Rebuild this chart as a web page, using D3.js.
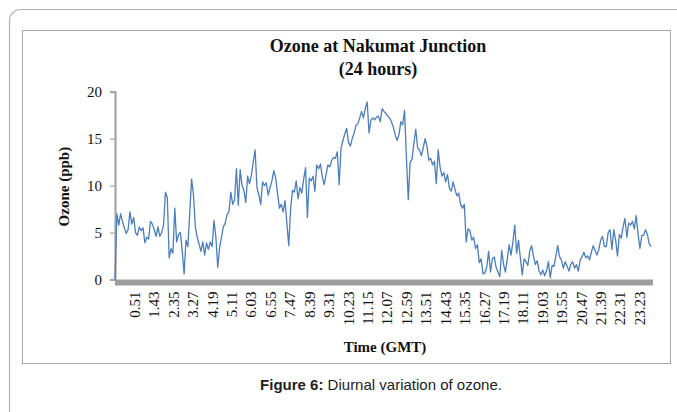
<!DOCTYPE html>
<html>
<head>
<meta charset="utf-8">
<script src="https://cdn.jsdelivr.net/npm/d3@7"></script>
<style>
  body { margin: 0; background: #fff; }
  svg { display: block; }
</style>
</head>
<body>
<div id="viz"></div>
<script>
// ozone readings every 5 minutes, one row per hour (00:00 .. 23:55)
const ozone = [
  0.0, 7.0, 5.8, 7.0, 6.2, 5.5, 4.9, 5.3, 7.2, 5.9, 6.6, 5.0,
  4.7, 5.6, 5.2, 5.5, 3.9, 4.5, 4.3, 6.2, 5.9, 5.3, 4.6, 5.6,
  4.6, 5.0, 5.8, 9.3, 8.7, 2.3, 3.3, 2.8, 7.6, 4.0, 4.8, 5.0,
  3.0, 0.6, 4.2, 3.5, 7.0, 10.7, 9.0, 5.6, 4.5, 3.8, 3.0, 4.0,
  2.6, 3.9, 3.2, 4.0, 3.5, 6.3, 4.5, 1.3, 3.4, 4.5, 5.6, 6.0,
  6.9, 7.2, 9.3, 8.0, 8.5, 11.8, 7.9, 11.7, 10.0, 9.5, 8.2, 11.0,
  10.2, 11.1, 12.5, 13.8, 9.8, 9.0, 8.0, 10.4, 10.0, 10.3, 9.0, 9.8,
  10.5, 11.6, 10.8, 9.2, 7.6, 8.0, 7.2, 8.4, 6.0, 3.6, 7.5, 9.5,
  9.3, 10.5, 8.6, 9.8, 9.2, 10.7, 11.9, 6.6, 10.8, 10.5, 11.0, 9.4,
  12.2, 11.8, 12.3, 10.9, 10.1, 11.2, 12.2, 12.0, 12.7, 13.0, 12.9, 13.6,
  10.1, 14.0, 14.8, 15.5, 16.1, 14.6, 14.2, 15.0, 15.6, 16.4, 16.6, 17.2,
  17.9, 17.2, 18.2, 18.9, 15.6, 17.0, 17.2, 17.0, 17.3, 17.4, 16.8, 18.2,
  17.9, 17.7, 17.4, 17.2, 16.8, 16.2, 15.4, 14.8, 15.4, 16.8, 16.5, 18.0,
  13.0, 8.5, 12.5, 12.8, 14.5, 16.0, 14.0, 13.8, 13.2, 14.0, 15.0, 14.2,
  12.7, 12.9, 12.2, 12.6, 10.2, 13.8, 12.0, 11.0, 11.4, 10.4, 11.2, 9.7,
  9.4, 10.4, 9.6, 8.9, 9.2, 8.0, 7.6, 8.0, 4.0, 5.4, 5.2, 4.2,
  4.5, 3.3, 3.7, 1.8, 2.2, 0.6, 0.7, 1.3, 3.0, 0.8, 2.2, 2.4,
  1.3, 0.8, 0.3, 3.1, 1.6, 0.8, 2.2, 3.7, 2.6, 4.0, 5.8, 2.8,
  4.2, 2.3, 0.5, 2.2, 1.9, 1.5, 3.0, 3.6, 2.5, 1.6, 2.0, 0.9,
  0.5, 1.0, 0.4, 0.9, 1.9, 0.2, 1.5, 1.4, 2.5, 3.6, 2.4, 2.1,
  1.2, 1.9, 1.4, 0.9, 1.6, 1.9, 1.2, 1.6, 0.9, 2.1, 2.4, 2.9,
  2.3, 2.5, 2.1, 2.9, 3.6, 3.1, 2.6, 3.2, 4.2, 4.6, 3.5, 3.5,
  5.0, 5.3, 3.2, 5.3, 4.2, 2.5, 4.8, 4.4, 5.6, 6.5, 4.5, 6.0,
  5.8, 6.2, 5.4, 6.8, 4.8, 3.3, 4.7, 4.7, 5.3, 4.8, 3.8, 3.5
];
const stepMinutes = 5;

const xTickLabels = ['0.51', '1.43', '2.35', '3.27', '4.19', '5.11', '6.03', '6.55', '7.47',
  '8.39', '9.31', '10.23', '11.15', '12.07', '12.59', '13.51', '14.43', '15.35', '16.27',
  '17.19', '18.11', '19.03', '19.55', '20.47', '21.39', '22.31', '23.23'];
const yTicks = [0, 5, 10, 15, 20];

const width = 677, height = 412;
const serif = "'Liberation Serif', 'Times New Roman', serif";

const svg = d3.select('#viz')
  .append('svg')
  .attr('width', width)
  .attr('height', height);

// outer frame (rounded, runs off the right edge)
svg.append('rect')
  .attr('x', 9.5).attr('y', 9.5)
  .attr('width', 700).attr('height', 420)
  .attr('rx', 11)
  .attr('fill', 'none')
  .attr('stroke', '#b4b4b4')
  .attr('stroke-width', 1.2);

// chart box
svg.append('rect')
  .attr('x', 22.5).attr('y', 30.5)
  .attr('width', 648).attr('height', 333)
  .attr('fill', '#fff')
  .attr('stroke', '#a8a8a8')
  .attr('stroke-width', 1);

const x = d3.scaleLinear().domain([0, 1440]).range([115, 653]);
const y = d3.scaleLinear().domain([0, 20]).range([279.5, 91.7]);

// title
svg.append('text')
  .attr('x', 378).attr('y', 52)
  .attr('text-anchor', 'middle')
  .style('font-family', serif).style('font-size', '18px').style('font-weight', 'bold')
  .attr('fill', '#111')
  .text('Ozone at Nakumat Junction');
svg.append('text')
  .attr('x', 378).attr('y', 75)
  .attr('text-anchor', 'middle')
  .style('font-family', serif).style('font-size', '18px').style('font-weight', 'bold')
  .attr('fill', '#111')
  .text('(24 hours)');

// y axis
const yAxis = svg.append('g')
  .attr('transform', 'translate(115,0)')
  .call(d3.axisLeft(y).tickValues(yTicks).tickSize(5).tickPadding(8));
yAxis.select('.domain').attr('stroke', '#a6a6a6').attr('stroke-width', 2.2);
yAxis.selectAll('.tick line').attr('stroke', '#a6a6a6').attr('stroke-width', 1.2);
yAxis.selectAll('.tick text')
  .style('font-family', serif).style('font-size', '15px').attr('fill', '#111');

svg.append('text')
  .attr('transform', 'translate(69,' + (y(10) + 1) + ') rotate(-90)')
  .attr('text-anchor', 'middle')
  .style('font-family', serif).style('font-size', '15px').style('font-weight', 'bold')
  .attr('fill', '#111')
  .text('Ozone (ppb)');

// x axis: thick grey floor bar
svg.append('rect')
  .attr('x', x(0)).attr('y', y(0))
  .attr('width', x(1440) - x(0)).attr('height', 6)
  .attr('fill', '#9e9e9e');

const toMinutes = s => {
  const [h, m] = s.split('.').map(Number);
  return h * 60 + m;
};

const xAxis = svg.append('g')
  .attr('transform', 'translate(0,' + (y(0) + 6) + ')')
  .call(d3.axisBottom(x)
    .tickValues(xTickLabels.map(toMinutes))
    .tickFormat((d, i) => xTickLabels[i])
    .tickSize(0));
xAxis.select('.domain').remove();
xAxis.selectAll('.tick text')
  .attr('transform', 'rotate(-90)')
  .attr('x', -6).attr('y', 0).attr('dy', '0.35em')
  .attr('text-anchor', 'end')
  .style('font-family', serif).style('font-size', '15px').attr('fill', '#111');

svg.append('text')
  .attr('x', 385).attr('y', 352)
  .attr('text-anchor', 'middle')
  .style('font-family', serif).style('font-size', '15px').style('font-weight', 'bold')
  .attr('fill', '#111')
  .text('Time (GMT)');

// line
const line = d3.line()
  .x((d, i) => x(i * stepMinutes))
  .y(d => y(d));

svg.append('path')
  .datum(ozone)
  .attr('d', line)
  .attr('fill', 'none')
  .attr('stroke', '#4a7ebf')
  .attr('stroke-width', 1.3)
  .attr('stroke-linejoin', 'round');

// caption
const cap = svg.append('text')
  .attr('x', 381).attr('y', 390)
  .attr('text-anchor', 'middle')
  .style('font-family', "'Liberation Sans', Arial, sans-serif").style('font-size', '15px')
  .attr('fill', '#222');
cap.append('tspan').style('font-weight', 'bold').text('Figure 6:');
cap.append('tspan').text(' Diurnal variation of ozone.');
</script>
</body>
</html>
